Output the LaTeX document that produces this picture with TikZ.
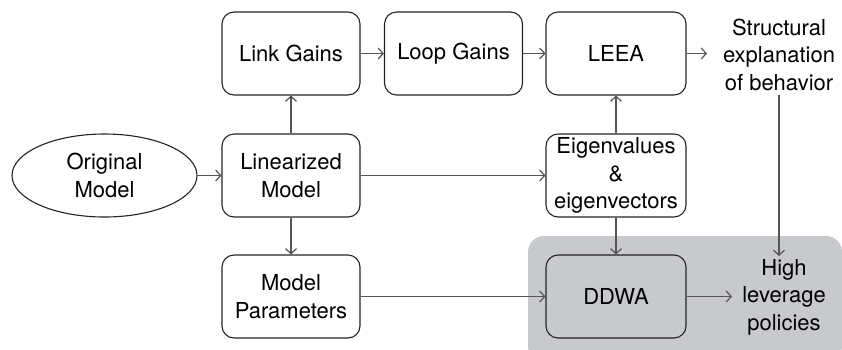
\documentclass[tikz,border=0pt]{standalone}
\usepackage{fontspec}
\setmainfont{TeX Gyre Heros}
\usetikzlibrary{arrows.meta,shapes.geometric}
\definecolor{graybg}{RGB}{200,201,204}
\definecolor{boxline}{RGB}{35,35,35}
\definecolor{conn}{RGB}{85,85,85}
\begin{document}
\begin{tikzpicture}[x=1pt,y=-1pt,
  font=\fontsize{22}{27.5}\selectfont,
  box/.style={draw=boxline,line width=1.1pt,rounded corners=12pt,minimum width=138pt,minimum height=83pt,align=center,inner sep=1pt},
  txt/.style={align=center,inner sep=0pt},
  conn/.style={draw=conn,line width=1.2pt,-{Straight Barb[length=5pt,width=11pt,line width=1.2pt]}}]
\useasboundingbox (0,0) rectangle (842,349);
\fill[graybg,rounded corners=16pt] (528,236) rectangle (842,362);
\node[box] (link) at (291,53.5) {Link Gains};
\node[box] (loop) at (453.5,53.5) {Loop Gains};
\node[box,minimum width=140pt] (leea) at (616,53.5) {LEEA};
\node[txt] (struct) at (779,54.5) {Structural\\explanation\\of behavior};
\node[draw=boxline,line width=1.1pt,ellipse,minimum width=185pt,minimum height=83pt,align=center,inner sep=0pt] (orig) at (104.5,175.5) {Original\\Model};
\node[box] (lin) at (291,175.5) {Linearized\\Model};
\node[box,minimum width=140pt] (eig) at (616,175.5) {Eigenvalues\\\&\\eigenvectors};
\node[box] (par) at (291,296.5) {Model\\Parameters};
\node[box,minimum width=140pt] (ddwa) at (616,296.5) {DDWA};
\node[txt] (high) at (784,297) {High\\leverage\\policies};
\coordinate (sIn) at (707,53.5);
\coordinate (hIn) at (732,296.5);
\coordinate (sOut) at (779,95);
\coordinate (hTop) at (779,256);
\draw[conn] (link) -- (loop);
\draw[conn] (loop) -- (leea);
\draw[conn] (leea.east) -- (sIn);
\draw[conn] (orig) -- (lin);
\draw[conn] (lin) -- (link);
\draw[conn] (lin) -- (par);
\draw[conn] (lin) -- (eig);
\draw[conn] (eig) -- (leea);
\draw[conn] (eig) -- (ddwa);
\draw[conn] (par) -- (ddwa);
\draw[conn] (ddwa.east) -- (hIn);
\draw[conn] (sOut) -- (hTop);
\end{tikzpicture}
\end{document}
